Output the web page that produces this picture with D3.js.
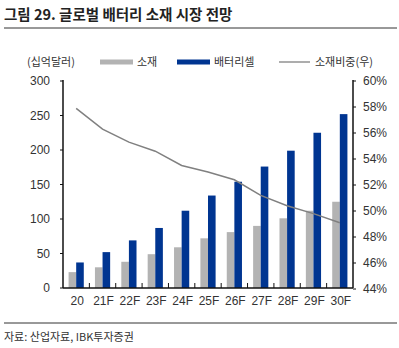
<!DOCTYPE html>
<html><head><meta charset="utf-8">
<script src="https://cdn.jsdelivr.net/npm/d3@7.9.0/dist/d3.min.js"></script>
<style>body{margin:0;background:#fff}svg{display:block;font-family:"Noto Sans CJK KR","Noto Sans",sans-serif}</style>
</head><body><svg width="399" height="348"></svg>
<script>
const years=['20','21F','22F','23F','24F','25F','26F','27F','28F','29F','30F'];
const material=[23,30,38,49,59,72,81,90,101,112,125];
const cell=[37,52,69,87,112,134,154,176,199,225,252];
const share=[57.9,56.3,55.3,54.6,53.5,53.0,52.4,51.2,50.4,49.8,49.1];
const leftTicks=[0,50,100,150,200,250,300];
const rightTicks=[44,46,48,50,52,54,56,58,60];

const svg=d3.select('svg'),L=63,R=353,T=81,B=288;
const x=d3.scaleBand().domain(years).range([L,R]);
const y=d3.scaleLinear().domain([0,300]).range([B,T]);
const y2=d3.scaleLinear().domain([44,60]).range([B+1,T]);
const bw=7.6;

svg.append('text').attr('x',4).attr('y',20).attr('font-size',14.5).attr('font-weight','bold').attr('fill','#222').text('그림 29. 글로벌 배터리 소재 시장 전망');
svg.append('line').attr('x1',4).attr('x2',397).attr('y1',28).attr('y2',28).attr('stroke','#333').attr('stroke-width',1);
svg.append('line').attr('x1',4).attr('x2',397).attr('y1',323).attr('y2',323).attr('stroke','#333').attr('stroke-width',1);
svg.append('text').attr('x',4).attr('y',341).attr('font-size',11).attr('fill','#333').text('자료: 산업자료, IBK투자증권');

// legend
const lg=svg.append('g').attr('font-size',11).attr('fill','#333');
lg.append('text').attr('x',27).attr('y',66).text('(십억달러)');
lg.append('rect').attr('x',100).attr('y',59.5).attr('width',33).attr('height',5).attr('fill','#b3b3b3');
lg.append('text').attr('x',137).attr('y',66).text('소재');
lg.append('rect').attr('x',177).attr('y',59.5).attr('width',33).attr('height',5).attr('fill','#003591');
lg.append('text').attr('x',214).attr('y',66).text('배터리셀');
lg.append('line').attr('x1',279).attr('x2',310).attr('y1',62).attr('y2',62).attr('stroke','#808080').attr('stroke-width',1.3);
lg.append('text').attr('x',315).attr('y',66).text('소재비중(우)');

// bars
svg.append('g').selectAll('rect').data(material).join('rect')
 .attr('x',(d,i)=>x(years[i])+x.bandwidth()/2-bw).attr('width',bw)
 .attr('y',d=>y(d)).attr('height',d=>B-y(d)).attr('fill','#b3b3b3');
svg.append('g').selectAll('rect').data(cell).join('rect')
 .attr('x',(d,i)=>x(years[i])+x.bandwidth()/2).attr('width',bw)
 .attr('y',d=>y(d)).attr('height',d=>B-y(d)).attr('fill','#003591');

// line
svg.append('path').datum(share).attr('fill','none').attr('stroke','#808080').attr('stroke-width',1.5)
 .attr('d',d3.line().x((d,i)=>x(years[i])+x.bandwidth()/2).y(d=>y2(d)));

// axes
const ax=svg.append('g').attr('stroke','#111').attr('stroke-width',1.5);
ax.append('line').attr('x1',L).attr('x2',L).attr('y1',T-1).attr('y2',B);
ax.append('line').attr('x1',R).attr('x2',R).attr('y1',T-1).attr('y2',B);
ax.append('line').attr('x1',L).attr('x2',R).attr('y1',B).attr('y2',B);
ax.selectAll('.lt').data(leftTicks).join('line').attr('x1',L-3).attr('x2',L).attr('y1',d=>y(d)).attr('y2',d=>y(d)).attr('stroke-width',1);
ax.selectAll('.rt').data(rightTicks).join('line').attr('x1',R).attr('x2',R+3).attr('y1',d=>y2(d)).attr('y2',d=>y2(d)).attr('stroke-width',1);
ax.selectAll('.bt').data(years.slice(1)).join('line').attr('x1',d=>x(d)).attr('x2',d=>x(d)).attr('y1',B-5).attr('y2',B).attr('stroke-width',1);

const tf=svg.append('g').attr('font-size',12).attr('fill','#333').attr('font-family','"Liberation Sans",Arial,sans-serif');
tf.selectAll('.l').data(leftTicks).join('text').attr('x',50).attr('y',d=>y(d)+4).attr('text-anchor','end').text(d=>d);
tf.selectAll('.r').data(rightTicks).join('text').attr('x',363).attr('y',d=>y2(d)+4).text(d=>d+'%');
tf.selectAll('.x').data(years).join('text').attr('x',d=>x(d)+x.bandwidth()/2+1).attr('y',305).attr('text-anchor','middle').text(d=>d);
</script></body></html>
